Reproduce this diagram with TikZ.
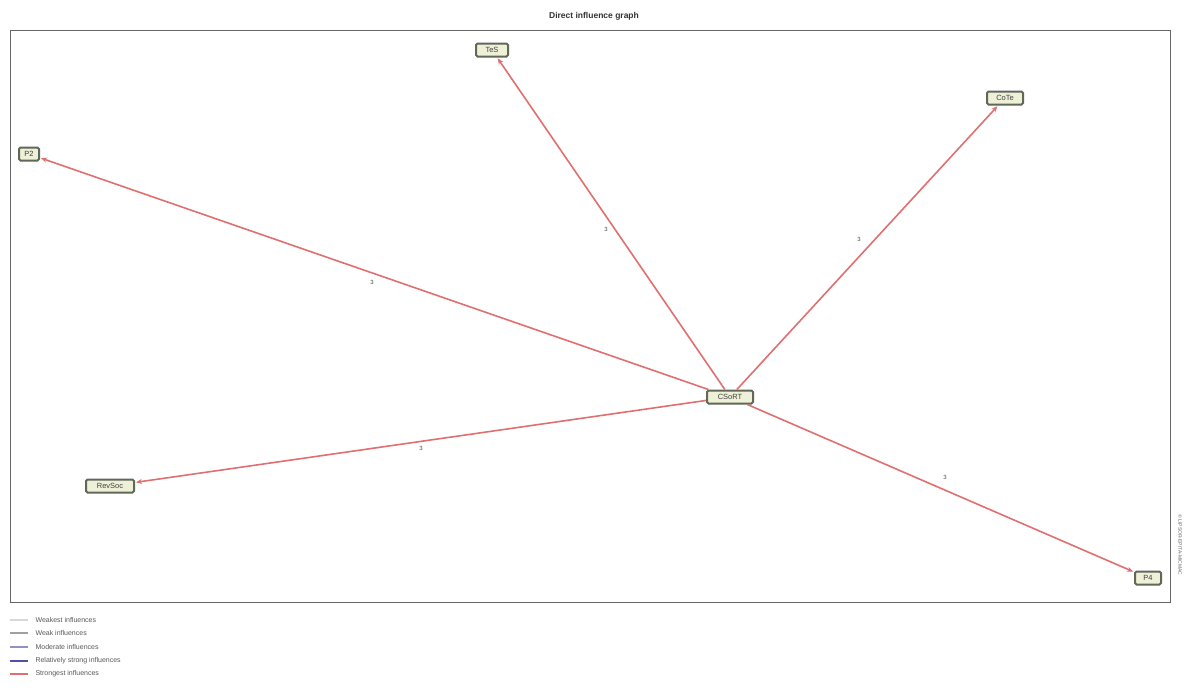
\documentclass[tikz,border=0pt]{standalone}
\usepackage{fontspec}
\setmainfont{Liberation Sans}
\usetikzlibrary{arrows.meta}
\definecolor{nodefill}{HTML}{EEF0D8}
\definecolor{nodeborder}{HTML}{606858}
\definecolor{strongest}{HTML}{E07070}
\definecolor{relstrong}{HTML}{5050A8}
\definecolor{moderate}{HTML}{9090C8}
\definecolor{weak}{HTML}{A0A0A0}
\definecolor{weakest}{HTML}{D8D8D8}
\tikzset{
  var/.style={draw=nodeborder, line width=2pt, fill=nodefill, rounded corners=1.5pt,
    inner sep=1pt, minimum height=13pt, font=\fontsize{7.5}{8}\selectfont, text=black!75},
  infl/.style={draw=strongest, line width=1.6pt, -{Stealth[length=6pt,width=5pt]}, shorten >=1pt},
  wlab/.style={font=\fontsize{6}{7}\selectfont, text=black!70},
  legline/.style={line width=1.3pt},
  legtext/.style={font=\fontsize{7}{8}\selectfont, text=black!65, anchor=west}
}
\begin{document}
\begin{tikzpicture}[x=1pt,y=-1pt]
\useasboundingbox[fill=white] (0,0) rectangle (1188,691);
\node[font=\bfseries\fontsize{8.5}{9}\selectfont, text=black!80] (title) at (594,16) {Direct influence graph};
\draw[line width=1pt, draw=black!60] (10,30) rectangle (1170,602);
\node[font=\fontsize{5}{6}\selectfont, text=black!60, rotate=-90] (copy) at (1180,545) {© LIPSOR-EPITA-MICMAC};

\node[var, minimum width=46pt] (c)  at (730,397) {CSoRT};
\node[var, minimum width=32pt] (t)  at (492,50)  {TeS};
\node[var, minimum width=36pt] (tr) at (1005,98) {CoTe};
\node[var, minimum width=20pt] (l)  at (29,154)  {P2};
\node[var, minimum width=48pt] (bl) at (110,486) {RevSoc};
\node[var, minimum width=26pt] (br) at (1148,578) {P4};

\draw[infl] (c) -- (t);
\draw[infl] (c) -- (tr);
\draw[infl] (c) -- (l);
\draw[infl] (c) -- (bl);
\draw[infl] (c) -- (br);

\node[wlab] (w1) at (372,282) {3};
\node[wlab] (w2) at (606,229) {3};
\node[wlab] (w3) at (859,239) {3};
\node[wlab] (w4) at (421,448) {3};
\node[wlab] (w5) at (945,477) {3};

\coordinate (a1) at (10,620); \coordinate (b1) at (28,620);
\coordinate (a2) at (10,633); \coordinate (b2) at (28,633);
\coordinate (a3) at (10,647); \coordinate (b3) at (28,647);
\coordinate (a4) at (10,661); \coordinate (b4) at (28,661);
\coordinate (a5) at (10,674); \coordinate (b5) at (28,674);
\draw[legline, weakest] (a1) -- (b1);
\draw[legline, weak] (a2) -- (b2);
\draw[legline, moderate] (a3) -- (b3);
\draw[legline, relstrong] (a4) -- (b4);
\draw[legline, strongest] (a5) -- (b5);
\node[legtext] (t1) at (32,620) {Weakest influences};
\node[legtext] (t2) at (32,633) {Weak influences};
\node[legtext] (t3) at (32,647) {Moderate influences};
\node[legtext] (t4) at (32,661) {Relatively strong influences};
\node[legtext] (t5) at (32,674) {Strongest influences};
\end{tikzpicture}
\end{document}
